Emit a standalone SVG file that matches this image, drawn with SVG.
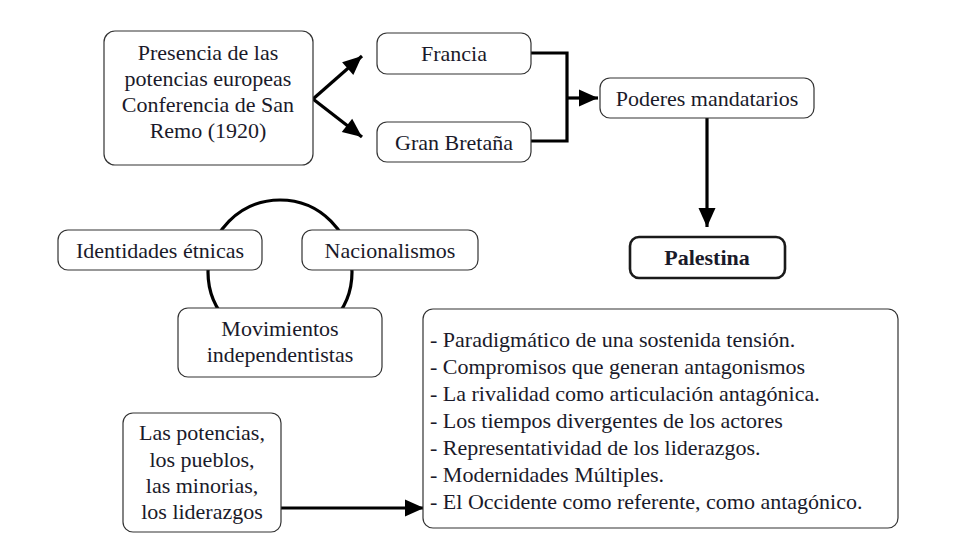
<svg xmlns="http://www.w3.org/2000/svg" width="967" height="548" viewBox="0 0 967 548">
<style>
.box{fill:#fff;stroke:#333;stroke-width:1.2}
.bold{fill:#fff;stroke:#1a1a1a;stroke-width:2.6}
text{font-family:"Liberation Serif","Times New Roman",serif;font-size:22px;fill:#1a1a2a}
.c{text-anchor:middle}
.conn{fill:none;stroke:#000;stroke-width:3.2}
</style>
<defs>
<marker id="ah" markerUnits="userSpaceOnUse" markerWidth="24" markerHeight="24" viewBox="0 0 24 24" refX="21" refY="12" orient="auto">
<path d="M2,3.5 L21,12 L2,20.5 Z" fill="#000"/>
</marker>
</defs>
<rect width="967" height="548" fill="#fff"/>
<g id="connectors">
<path class="conn" d="M313,99 L362,56" marker-end="url(#ah)"/>
<path class="conn" d="M313,99 L362,137" marker-end="url(#ah)"/>
<path class="conn" d="M531,53 H567 V141 H531"/>
<path class="conn" d="M567,98 H598" marker-end="url(#ah)"/>
<path class="conn" d="M707,118 V227" marker-end="url(#ah)"/>
<circle class="conn" cx="280" cy="272" r="72"/>
<path class="conn" d="M281,508 H424" marker-end="url(#ah)"/>
</g>
<g id="presencia">
<rect class="box" x="104" y="31" width="209" height="134" rx="11"/>
<text class="c" x="208" y="60">Presencia de las</text>
<text class="c" x="208" y="86">potencias europeas</text>
<text class="c" x="208" y="112">Conferencia de San</text>
<text class="c" x="208" y="138">Remo (1920)</text>
</g>
<g id="francia">
<rect class="box" x="377" y="33" width="154" height="41" rx="10"/>
<text class="c" x="454" y="61">Francia</text>
</g>
<g id="granbretana">
<rect class="box" x="377" y="122" width="154" height="40" rx="10"/>
<text class="c" x="454" y="150">Gran Bretaña</text>
</g>
<g id="poderes">
<rect class="box" x="600" y="78" width="214" height="40" rx="10"/>
<text class="c" x="707" y="106">Poderes mandatarios</text>
</g>
<g id="palestina">
<rect class="bold" x="630" y="237" width="155" height="41" rx="9"/>
<text class="c" x="707" y="265" font-weight="bold">Palestina</text>
</g>
<g id="identidades">
<rect class="box" x="58" y="230" width="204" height="40" rx="10"/>
<text class="c" x="160" y="258">Identidades étnicas</text>
</g>
<g id="nacionalismos">
<rect class="box" x="302" y="230" width="176" height="40" rx="10"/>
<text class="c" x="390" y="258">Nacionalismos</text>
</g>
<g id="movimientos">
<rect class="box" x="178" y="308" width="204" height="69" rx="10"/>
<text class="c" x="280" y="336">Movimientos</text>
<text class="c" x="280" y="362">independentistas</text>
</g>
<g id="potencias">
<rect class="box" x="123" y="413" width="158" height="119" rx="10"/>
<text class="c" x="202" y="440">Las potencias,</text>
<text class="c" x="202" y="467">los pueblos,</text>
<text class="c" x="202" y="493">las minorias,</text>
<text class="c" x="202" y="519">los liderazgos</text>
</g>
<g id="lista">
<rect class="box" x="423" y="309" width="475" height="219" rx="10"/>
<text x="430" y="347">- Paradigmático de una sostenida tensión.</text>
<text x="430" y="374">- Compromisos que generan antagonismos</text>
<text x="430" y="401">- La rivalidad como articulación antagónica.</text>
<text x="430" y="428">- Los tiempos divergentes de los actores</text>
<text x="430" y="455">- Representatividad de los liderazgos.</text>
<text x="430" y="482">- Modernidades Múltiples.</text>
<text x="430" y="509">- El Occidente como referente, como antagónico.</text>
</g>
</svg>
